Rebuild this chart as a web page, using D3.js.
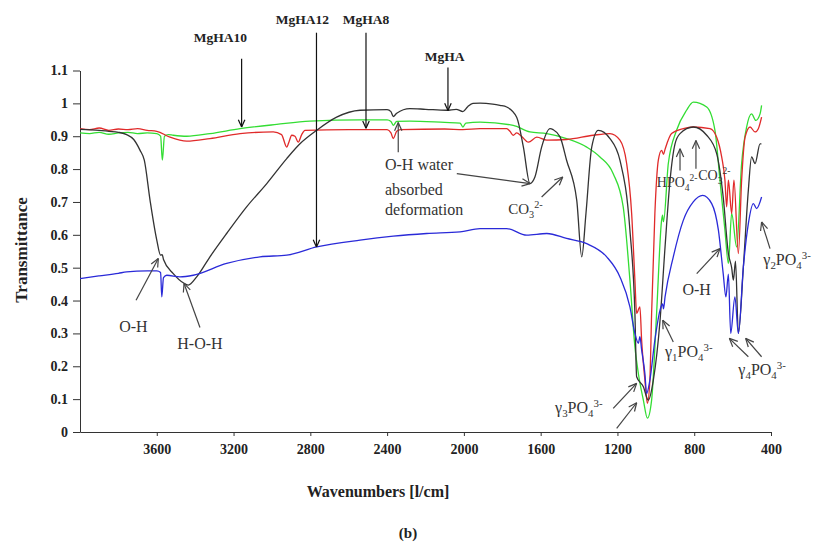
<!DOCTYPE html>
<html>
<head>
<meta charset="utf-8">
<script src="https://cdn.jsdelivr.net/npm/d3@7.9.0/dist/d3.min.js"></script>
<style>
  body { margin: 0; background: #fff; }
  svg { display: block; }
  .tick text { font-family: "Liberation Serif", "Times New Roman", serif; font-weight: bold; font-size: 14px; fill: #222; }
</style>
</head>
<body>
<svg id="chart" width="816" height="548"></svg>
<script>
// x ticks (wavenumbers) and y ticks (transmittance)
const xTicks = [3600, 3200, 2800, 2400, 2000, 1600, 1200, 800, 400];
const yTicks = [0, 0.1, 0.2, 0.3, 0.4, 0.5, 0.6, 0.7, 0.8, 0.9, 1, 1.1];

// spectra: [wavenumber, transmittance]
const mgha = [[4000,0.921],[3900,0.918],[3850,0.915],[3800,0.912],[3757,0.905],[3720,0.89],[3687,0.857],[3665,0.827],
  [3635,0.705],[3600,0.584],[3580,0.538],[3572,0.54],[3565,0.525],[3514,0.482],[3462,0.454],[3436,0.447],[3392,0.472],
  [3323,0.533],[3236,0.604],[3132,0.685],[3027,0.756],[2923,0.832],[2854,0.877],[2767,0.918],[2663,0.958],[2541,0.979],
  [2400,0.981],[2380,0.975],[2368,0.96],[2350,0.97],[2281,0.984],[2200,0.982],[2090,0.979],[2040,0.982],[2005,0.975],
  [1980,0.99],[1953,1.0],[1916,1.001],[1850,0.998],[1812,0.994],[1777,0.989],[1725,0.958],[1690,0.867],[1656,0.756],
  [1630,0.776],[1595,0.867],[1551,0.923],[1535,0.92],[1499,0.898],[1465,0.827],[1412,0.705],[1386,0.533],[1364,0.665],
  [1334,0.867],[1300,0.918],[1239,0.893],[1187,0.827],[1135,0.614],[1109,0.361],[1100,0.168],[1065,0.138],[1039,0.097],
  [1013,0.158],[978,0.34],[952,0.563],[926,0.766],[900,0.877],[874,0.908],[805,0.928],[735,0.903],[683,0.847],[649,0.715],
  [622,0.543],[605,0.5],[596,0.462],[585,0.52],[570,0.3],[544,0.502],[518,0.736],[501,0.837],[483,0.817],[457,0.877],[450,0.877]];

const mgha8 = [[4000,0.923],[3950,0.92],[3900,0.925],[3850,0.918],[3800,0.922],[3750,0.92],[3700,0.923],[3650,0.918],
  [3600,0.915],[3531,0.897],[3444,0.885],[3323,0.893],[3166,0.908],[2993,0.913],[2950,0.905],[2923,0.867],[2910,0.885],
  [2897,0.903],[2880,0.9],[2863,0.882],[2845,0.905],[2828,0.918],[2600,0.92],[2400,0.92],[2380,0.91],[2368,0.893],
  [2350,0.915],[2330,0.92],[2100,0.922],[2005,0.92],[1916,0.923],[1777,0.923],[1760,0.915],[1743,0.903],[1725,0.91],
  [1700,0.9],[1664,0.882],[1620,0.897],[1568,0.888],[1465,0.89],[1326,0.903],[1239,0.908],[1187,0.888],[1152,0.817],
  [1126,0.665],[1109,0.462],[1100,0.361],[1083,0.381],[1074,0.28],[1057,0.158],[1044,0.087],[1031,0.158],[1022,0.361],
  [1005,0.665],[987,0.827],[970,0.857],[960,0.845],[952,0.86],[918,0.908],[857,0.923],[805,0.928],[718,0.923],[683,0.897],
  [657,0.837],[640,0.766],[631,0.685],[622,0.766],[605,0.665],[593,0.766],[570,0.543],[553,0.766],[535,0.897],[509,0.928],
  [483,0.913],[466,0.923],[449,0.958]];

const mgha10 = [[4000,0.91],[3950,0.908],[3900,0.912],[3850,0.906],[3800,0.91],[3750,0.912],[3700,0.908],[3650,0.91],
  [3600,0.908],[3580,0.9],[3571,0.827],[3560,0.9],[3540,0.905],[3514,0.903],[3444,0.9],[3323,0.908],[3166,0.923],
  [2975,0.936],[2802,0.946],[2541,0.95],[2400,0.95],[2380,0.945],[2368,0.933],[2350,0.945],[2281,0.946],[2100,0.942],
  [2020,0.94],[2005,0.928],[1990,0.94],[1916,0.943],[1743,0.933],[1656,0.913],[1568,0.908],[1465,0.893],[1360,0.867],
  [1291,0.837],[1222,0.786],[1170,0.685],[1135,0.462],[1109,0.259],[1091,0.178],[1065,0.097],[1044,0.042],[1022,0.097],
  [996,0.361],[970,0.644],[965,0.66],[960,0.64],[935,0.817],[892,0.918],[840,0.979],[805,1.004],[735,0.989],[692,0.918],
  [666,0.766],[640,0.614],[622,0.513],[605,0.665],[579,0.563],[553,0.817],[527,0.928],[501,0.968],[479,0.948],[457,0.968],
  [449,0.994]];

const mgha12 = [[4000,0.467],[3900,0.475],[3800,0.483],[3757,0.487],[3650,0.49],[3600,0.49],[3580,0.485],[3574,0.411],
  [3565,0.47],[3548,0.477],[3479,0.472],[3410,0.477],[3236,0.513],[3062,0.533],[2923,0.538],[2767,0.563],[2541,0.584],
  [2368,0.596],[2194,0.604],[2020,0.609],[1916,0.619],[1777,0.619],[1673,0.599],[1568,0.604],[1465,0.589],[1360,0.573],
  [1256,0.533],[1187,0.472],[1135,0.381],[1109,0.3],[1091,0.27],[1083,0.29],[1074,0.25],[1057,0.178],[1048,0.117],
  [1031,0.158],[1005,0.28],[978,0.371],[965,0.39],[960,0.375],[952,0.411],[909,0.533],[857,0.644],[805,0.7],[756,0.72],
  [709,0.695],[674,0.614],[649,0.482],[635,0.411],[622,0.48],[610,0.3],[588,0.411],[570,0.3],[544,0.502],[518,0.634],
  [492,0.695],[475,0.68],[449,0.715]];

const series = [
  { name: "MgHA10", values: mgha10, color: "#33dd33" },
  { name: "MgHA8",  values: mgha8,  color: "#e02a2a" },
  { name: "MgHA",   values: mgha,   color: "#333333" },
  { name: "MgHA12", values: mgha12, color: "#2a2ad8" }
];

// sample name labels: [text, text wavenumber, text T, arrow wavenumber, arrow start T, arrow tip T]
const nameLabels = [
  ["MgHA10", 3269, 1.186, 3158, 1.136, 0.928],
  ["MgHA12", 2841, 1.24, 2768, 1.215, 0.563],
  ["MgHA8",  2510, 1.24, 2510, 1.215, 0.924],
  ["MgHA",   2100, 1.128, 2083, 1.109, 0.978]
];

// band annotations: parts [text, 'n'|'sub'|'sup'], anchor, text position, font size
const notes = [
  { parts: [["O-H","n"]], anchor: "middle", w: 3722, t: 0.304, size: 16 },
  { parts: [["H-O-H","n"]], anchor: "middle", w: 3375, t: 0.252, size: 16 },
  { parts: [["O-H water","n"]], anchor: "start", w: 2411, t: 0.796, size: 16 },
  { parts: [["absorbed","n"]], anchor: "start", w: 2411, t: 0.722, size: 16 },
  { parts: [["deformation","n"]], anchor: "start", w: 2411, t: 0.66, size: 16 },
  { parts: [["CO","n"],["3","sub"],["2-","sup"]], anchor: "start", w: 1769, t: 0.662, size: 15 },
  { parts: [["HPO","n"],["4","sub"],["2-","sup"]], anchor: "start", w: 995, t: 0.747, size: 14 },
  { parts: [["CO","n"],["3","sub"],["2-","sup"]], anchor: "start", w: 779, t: 0.766, size: 14 },
  { parts: [["O-H","n"]], anchor: "middle", w: 787, t: 0.416, size: 16 },
  { parts: [["γ","n"],["2","sub"],["PO","n"],["4","sub"],["3-","sup"]], anchor: "start", w: 440, t: 0.507, size: 16 },
  { parts: [["γ","n"],["1","sub"],["PO","n"],["4","sub"],["3-","sup"]], anchor: "start", w: 952, t: 0.229, size: 16 },
  { parts: [["γ","n"],["4","sub"],["PO","n"],["4","sub"],["3-","sup"]], anchor: "start", w: 570, t: 0.173, size: 16 },
  { parts: [["γ","n"],["3","sub"],["PO","n"],["4","sub"],["3-","sup"]], anchor: "start", w: 1525, t: 0.057, size: 16 }
];

// annotation arrows: [from w, from T, tip w, tip T]
const noteArrows = [
  [3708, 0.401, 3592, 0.528],
  [3375, 0.318, 3458, 0.452],
  [2037, 0.786, 1655, 0.756],
  [2342, 0.851, 2342, 0.942],
  [1595, 0.715, 1485, 0.776],
  [874, 0.796, 874, 0.862],
  [791, 0.801, 791, 0.887],
  [787, 0.482, 666, 0.558],
  [405, 0.558, 449, 0.639],
  [909, 0.274, 964, 0.34],
  [518, 0.229, 617, 0.285],
  [449, 0.229, 532, 0.285],
  [1222, 0.072, 1100, 0.148],
  [1204, 0.011, 1100, 0.089]
];

const svg = d3.select("#chart");
const serif = "'Liberation Serif', 'Times New Roman', serif";

const x = d3.scaleLinear().domain([4000, 400]).range([80, 771]);
const y = d3.scaleLinear().domain([0, 1.1]).range([432, 70.5]);

// axes
svg.append("g")
  .attr("transform", "translate(0,432)")
  .call(d3.axisBottom(x).tickValues(xTicks).tickSize(4).tickSizeOuter(0).tickPadding(8).tickFormat(d3.format("d")))
  .call(g => g.selectAll("line, path").attr("stroke", "#333"));

svg.append("g")
  .attr("transform", "translate(80,0)")
  .call(d3.axisLeft(y).tickValues(yTicks).tickSize(7).tickSizeOuter(0).tickPadding(5).tickFormat(d => String(d)))
  .call(g => g.selectAll("line, path").attr("stroke", "#333"));

// spectra
const line = d3.line()
  .x(d => x(d[0]))
  .y(d => y(d[1]))
  .curve(d3.curveMonotoneX);

svg.append("g")
  .selectAll("path")
  .data(series)
  .join("path")
  .attr("d", d => line(d.values))
  .attr("fill", "none")
  .attr("stroke", d => d.color)
  .attr("stroke-width", 1.3);

// arrow with open V head
function arrow(g, x1, y1, x2, y2, color, len) {
  const a = Math.atan2(y2 - y1, x2 - x1);
  const spread = 0.42;
  g.append("line")
    .attr("x1", x1).attr("y1", y1).attr("x2", x2).attr("y2", y2)
    .attr("stroke", color).attr("stroke-width", 1.2);
  [a + Math.PI - spread, a + Math.PI + spread].forEach(b => {
    g.append("line")
      .attr("x1", x2).attr("y1", y2)
      .attr("x2", x2 + len * Math.cos(b)).attr("y2", y2 + len * Math.sin(b))
      .attr("stroke", color).attr("stroke-width", 1.2);
  });
}

const ann = svg.append("g");

nameLabels.forEach(([name, tw, tt, aw, a0, a1]) => {
  ann.append("text")
    .attr("x", x(tw)).attr("y", y(tt))
    .attr("text-anchor", "middle")
    .attr("font-family", serif).attr("font-weight", "bold").attr("font-size", 13.5)
    .attr("fill", "#222")
    .text(name);
  arrow(ann, x(aw), y(a0), x(aw), y(a1), "#111", 8);
});

noteArrows.forEach(([w1, t1, w2, t2]) => arrow(ann, x(w1), y(t1), x(w2), y(t2), "#444", 9));

notes.forEach(n => {
  const t = ann.append("text")
    .attr("x", x(n.w)).attr("y", y(n.t))
    .attr("text-anchor", n.anchor)
    .attr("font-family", serif).attr("font-size", n.size)
    .attr("fill", "#333");
  let shift = 0;
  n.parts.forEach(([s, kind]) => {
    const target = kind === "sub" ? 4 : kind === "sup" ? -6 : 0;
    t.append("tspan")
      .attr("dy", target - shift)
      .attr("font-size", kind === "n" ? n.size : n.size * 0.68)
      .text(s);
    shift = target;
  });
});

// axis titles
svg.append("text")
  .attr("transform", "translate(27,250) rotate(-90)")
  .attr("text-anchor", "middle")
  .attr("font-family", serif).attr("font-weight", "bold").attr("font-size", 17)
  .attr("fill", "#222")
  .text("Transmittance");

svg.append("text")
  .attr("x", 378).attr("y", 497)
  .attr("text-anchor", "middle")
  .attr("font-family", serif).attr("font-weight", "bold").attr("font-size", 16)
  .attr("fill", "#222")
  .text("Wavenumbers [l/cm]");

svg.append("text")
  .attr("x", 408).attr("y", 538)
  .attr("text-anchor", "middle")
  .attr("font-family", serif).attr("font-weight", "bold").attr("font-size", 15)
  .attr("fill", "#222")
  .text("(b)");
</script>
</body>
</html>
